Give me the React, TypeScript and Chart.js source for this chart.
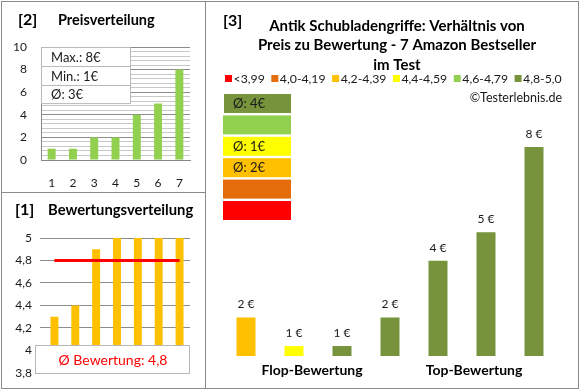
import React, { useEffect, useRef } from 'react';
import { Chart, registerables } from 'chart.js';

Chart.register(...registerables);

const FONT = 'Lato, "Noto Sans", sans-serif';
const TXT = '#1a1a1a';

// ---- Panel [2] Preisverteilung ----
const priceRanks = ['1', '2', '3', '4', '5', '6', '7'];
const pricesSorted = [1, 1, 2, 2, 4, 5, 8];
const priceStatLabels = ['Max.: 8€', 'Min.: 1€', 'Ø: 3€'];

// ---- Panel [1] Bewertungsverteilung ----
const ratingRanks = ['1', '2', '3', '4', '5', '6', '7'];
const ratingsSorted = [4.3, 4.4, 4.9, 5.0, 5.0, 5.0, 5.0];
const avgRating = 4.8;
const avgRatingLabel = 'Ø Bewertung: 4,8';

// ---- Panel [3] Preis zu Bewertung ----
const titleLines = [
  'Antik Schubladengriffe: Verhältnis von',
  'Preis zu Bewertung - 7 Amazon Bestseller',
  'im Test',
];
const products = ['P1', 'P2', 'P3', 'P4', 'P5', 'P6', 'P7'];
const productPrices = [2, 1, 1, 2, 4, 5, 8];
const productRatings = [4.3, 4.4, 4.9, 5.0, 5.0, 5.0, 5.0];
const ratingClassLabels = ['<3,99', '4,0-4,19', '4,2-4,39', '4,4-4,59', '4,6-4,79', '4,8-5,0'];
const ratingClassMins = [0, 4.0, 4.2, 4.4, 4.6, 4.8];
const ratingClassColors = ['#FF0000', '#E46C0A', '#FFC000', '#FFFF00', '#92D050', '#77933C'];
const ratingClassAvgLabels = ['', '', 'Ø: 2€', 'Ø: 1€', '', 'Ø: 4€'];
const groupLabels = ['Flop-Bewertung', 'Top-Bewertung'];
const groupPositions = [1.375, 4.75];
const copyright = '©Testerlebnis.de';

function classIndex(r: number) {
  let idx = 0;
  ratingClassMins.forEach((m, i) => {
    if (r >= m - 1e-9) idx = i;
  });
  return idx;
}

function fmtDe(v: number) {
  return String(Number(v.toFixed(1))).replace('.', ',');
}

function useChart(config: any) {
  const ref = useRef<HTMLCanvasElement | null>(null);
  useEffect(() => {
    if (!ref.current) return;
    const c = new Chart(ref.current, config);
    return () => c.destroy();
  }, []);
  return ref;
}

function Panel({ config, left, top, width, height }: any) {
  const ref = useChart(config);
  return (
    <div style={{ position: 'absolute', left, top, width, height }}>
      <canvas ref={ref} width={width} height={height} style={{ width, height, display: 'block' }} />
    </div>
  );
}

const pricePanelConfig: any = {
  type: 'bar',
  data: {
    labels: priceRanks,
    datasets: [
      {
        data: pricesSorted,
        backgroundColor: '#92D050',
        barPercentage: 0.375,
        categoryPercentage: 1,
      },
    ],
  },
  options: {
    animation: false,
    responsive: false,
    events: [],
    layout: { padding: { top: 45, right: 15, left: 0, bottom: 0 } },
    plugins: { legend: { display: false }, tooltip: { enabled: false } },
    scales: {
      x: {
        afterFit: (s: any) => { s.height = 32; },
        grid: { display: false },
        border: { display: true, color: '#888' },
        ticks: { color: TXT, font: { family: FONT, size: 12 }, padding: 8 },
      },
      y: {
        min: 0,
        max: 10,
        afterFit: (s: any) => { s.width = 39; },
        afterBuildTicks: (s: any) => {
          const t = [];
          for (let i = 0; i <= 25; i++) t.push({ value: i * 0.4 });
          s.ticks = t;
        },
        grid: {
          drawTicks: false,
          color: (ctx: any) => {
            const v = ctx.tick ? ctx.tick.value : 0;
            return Math.abs(v / 2 - Math.round(v / 2)) < 1e-6 ? '#8c8c8c' : '#c8c8c8';
          },
        },
        border: { display: true, color: '#888' },
        ticks: {
          color: TXT,
          font: { family: FONT, size: 12 },
          padding: 14,
          autoSkip: false,
          callback: (v: any) => {
            const n = Number(v);
            return Math.abs(n / 2 - Math.round(n / 2)) < 1e-6 ? String(Math.round(n)) : '';
          },
        },
      },
    },
  },
  plugins: [
    {
      id: 'p2text',
      afterDraw(chart: any) {
        const ctx = chart.ctx;
        ctx.save();
        ctx.fillStyle = '#000';
        ctx.textBaseline = 'middle';
        ctx.font = `bold 16px ${FONT}`;
        ctx.fillText('[2]', 16, 18);
        ctx.font = `bold 14.5px ${FONT}`;
        ctx.fillText('Preisverteilung', 56, 18);
        // stats table
        const x0 = 39.5, x1 = 128.5, top = 45.5, rowH = 18.7;
        ctx.fillStyle = '#fff';
        ctx.fillRect(x0, top, x1 - x0, rowH * 3);
        ctx.strokeStyle = '#b8b8b8';
        ctx.lineWidth = 1;
        ctx.strokeRect(x0, top, x1 - x0, rowH * 3);
        for (let i = 1; i < 3; i++) {
          ctx.beginPath();
          ctx.moveTo(x0, Math.round(top + rowH * i) + 0.5);
          ctx.lineTo(x1, Math.round(top + rowH * i) + 0.5);
          ctx.stroke();
        }
        ctx.fillStyle = TXT;
        ctx.font = `13px ${FONT}`;
        priceStatLabels.forEach((s, i) => {
          ctx.fillText(s, 49, top + rowH * i + rowH / 2 + 1);
        });
        ctx.restore();
      },
    },
  ],
};

const ratingPanelConfig: any = {
  type: 'bar',
  data: {
    labels: ratingRanks,
    datasets: [
      {
        type: 'line',
        data: ratingRanks.map(() => avgRating),
        borderColor: '#FF0000',
        borderWidth: 3,
        pointRadius: 0,
        order: 0,
      },
      {
        data: ratingsSorted,
        backgroundColor: '#FFC000',
        barPercentage: 0.38,
        categoryPercentage: 1,
        order: 1,
      },
    ],
  },
  options: {
    animation: false,
    responsive: false,
    events: [],
    layout: { padding: { top: 45, right: 15, left: 0, bottom: 0 } },
    plugins: { legend: { display: false }, tooltip: { enabled: false } },
    scales: {
      x: {
        afterFit: (s: any) => { s.height = 15; },
        grid: { display: false },
        border: { display: false },
        ticks: { display: false },
      },
      y: {
        min: 3.8,
        max: 5,
        afterFit: (s: any) => { s.width = 42; },
        grid: { color: '#8c8c8c', tickLength: 4 },
        border: { display: false },
        ticks: {
          stepSize: 0.2,
          color: TXT,
          font: { family: FONT, size: 12 },
          padding: 8,
          callback: (v: any) => fmtDe(Number(v)),
        },
      },
    },
  },
  plugins: [
    {
      id: 'p1text',
      afterDraw(chart: any) {
        const ctx = chart.ctx;
        ctx.save();
        ctx.fillStyle = '#000';
        ctx.textBaseline = 'middle';
        ctx.font = `bold 16px ${FONT}`;
        ctx.fillText('[1]', 13, 17);
        ctx.font = `bold 14.8px ${FONT}`;
        ctx.fillText('Bewertungsverteilung', 46, 17);
        // average box
        const x0 = 33.5, x1 = 187.5, y0 = 152.5, y1 = 180.5;
        ctx.fillStyle = '#fff';
        ctx.fillRect(x0, y0, x1 - x0, y1 - y0);
        ctx.strokeStyle = '#b8b8b8';
        ctx.lineWidth = 1;
        ctx.strokeRect(x0, y0, x1 - x0, y1 - y0);
        ctx.fillStyle = '#FF0000';
        ctx.textAlign = 'center';
        ctx.font = `14px ${FONT}`;
        ctx.fillText(avgRatingLabel, 111, 167);
        ctx.restore();
      },
    },
  ],
};

const barColors = productRatings.map((r) => ratingClassColors[classIndex(r)]);

const mainPanelConfig: any = {
  type: 'bar',
  data: {
    labels: products,
    datasets: [
      {
        data: productPrices,
        backgroundColor: barColors,
        barPercentage: 0.396,
        categoryPercentage: 1,
      },
    ],
  },
  options: {
    animation: false,
    responsive: false,
    events: [],
    layout: { padding: { top: 88, right: 20, left: 16, bottom: 32 } },
    plugins: { legend: { display: false }, tooltip: { enabled: false } },
    scales: {
      x: { display: false },
      y: { display: false, min: 0.65, max: 10 },
    },
  },
  plugins: [
    {
      id: 'p3text',
      afterDraw(chart: any) {
        const ctx = chart.ctx;
        const xs = chart.scales.x;
        ctx.save();
        ctx.fillStyle = '#000';
        ctx.textBaseline = 'middle';
        ctx.font = `bold 16px ${FONT}`;
        ctx.fillText('[3]', 17, 19);
        ctx.textAlign = 'center';
        ctx.font = `bold 15px ${FONT}`;
        titleLines.forEach((l, i) => ctx.fillText(l, 191, 24 + i * 19.5));
        // legend
        ctx.textAlign = 'left';
        ctx.font = `12.3px ${FONT}`;
        let lx = 19;
        ratingClassLabels.forEach((l, i) => {
          ctx.fillStyle = ratingClassColors[i];
          ctx.fillRect(lx, 73, 7, 7);
          ctx.fillStyle = TXT;
          ctx.fillText(l, lx + 8.5, 77);
          lx += 8.5 + ctx.measureText(l).width + 6.5;
        });
        ctx.font = `12.5px ${FONT}`;
        ctx.textAlign = 'right';
        ctx.fillText(copyright, 356, 96);
        // rating class blocks (top = best class)
        ctx.textAlign = 'left';
        ctx.font = `13px ${FONT}`;
        const order = [5, 4, 3, 2, 1, 0];
        order.forEach((ci, row) => {
          const y = 92 + row * 21.4;
          ctx.fillStyle = ratingClassColors[ci];
          ctx.fillRect(row === 0 ? 18 : 17, y, row === 0 ? 67 : 68, 19);
          if (ratingClassAvgLabels[ci]) {
            ctx.fillStyle = TXT;
            ctx.fillText(ratingClassAvgLabels[ci], 27, y + 10);
          }
        });
        // value labels
        const meta = chart.getDatasetMeta(0);
        ctx.textAlign = 'center';
        ctx.font = `12px ${FONT}`;
        ctx.fillStyle = TXT;
        meta.data.forEach((el: any, i: number) => {
          ctx.fillText(`${productPrices[i]} €`, el.x, el.y - 13);
        });
        // group labels
        ctx.font = `bold 14px ${FONT}`;
        ctx.fillStyle = '#000';
        groupLabels.forEach((g, i) => {
          ctx.fillText(g, xs.getPixelForValue(groupPositions[i]), 368);
        });
        ctx.restore();
      },
    },
  ],
};

export default function App() {
  const line = '#8a8a8a';
  return (
    <div style={{ position: 'fixed', left: 0, top: 0, width: 580, height: 390, background: '#fff', overflow: 'hidden' }}>
      <Panel config={pricePanelConfig} left={2} top={2} width={203} height={190} />
      <Panel config={ratingPanelConfig} left={2} top={193} width={203} height={195} />
      <Panel config={mainPanelConfig} left={206} top={2} width={372} height={386} />
      <div style={{ position: 'absolute', left: 1, top: 1, width: 578, height: 388, border: `1px solid ${line}`, boxSizing: 'border-box' }} />
      <div style={{ position: 'absolute', left: 205, top: 1, width: 1, height: 388, background: line }} />
      <div style={{ position: 'absolute', left: 1, top: 192, width: 205, height: 1, background: line }} />
    </div>
  );
}
